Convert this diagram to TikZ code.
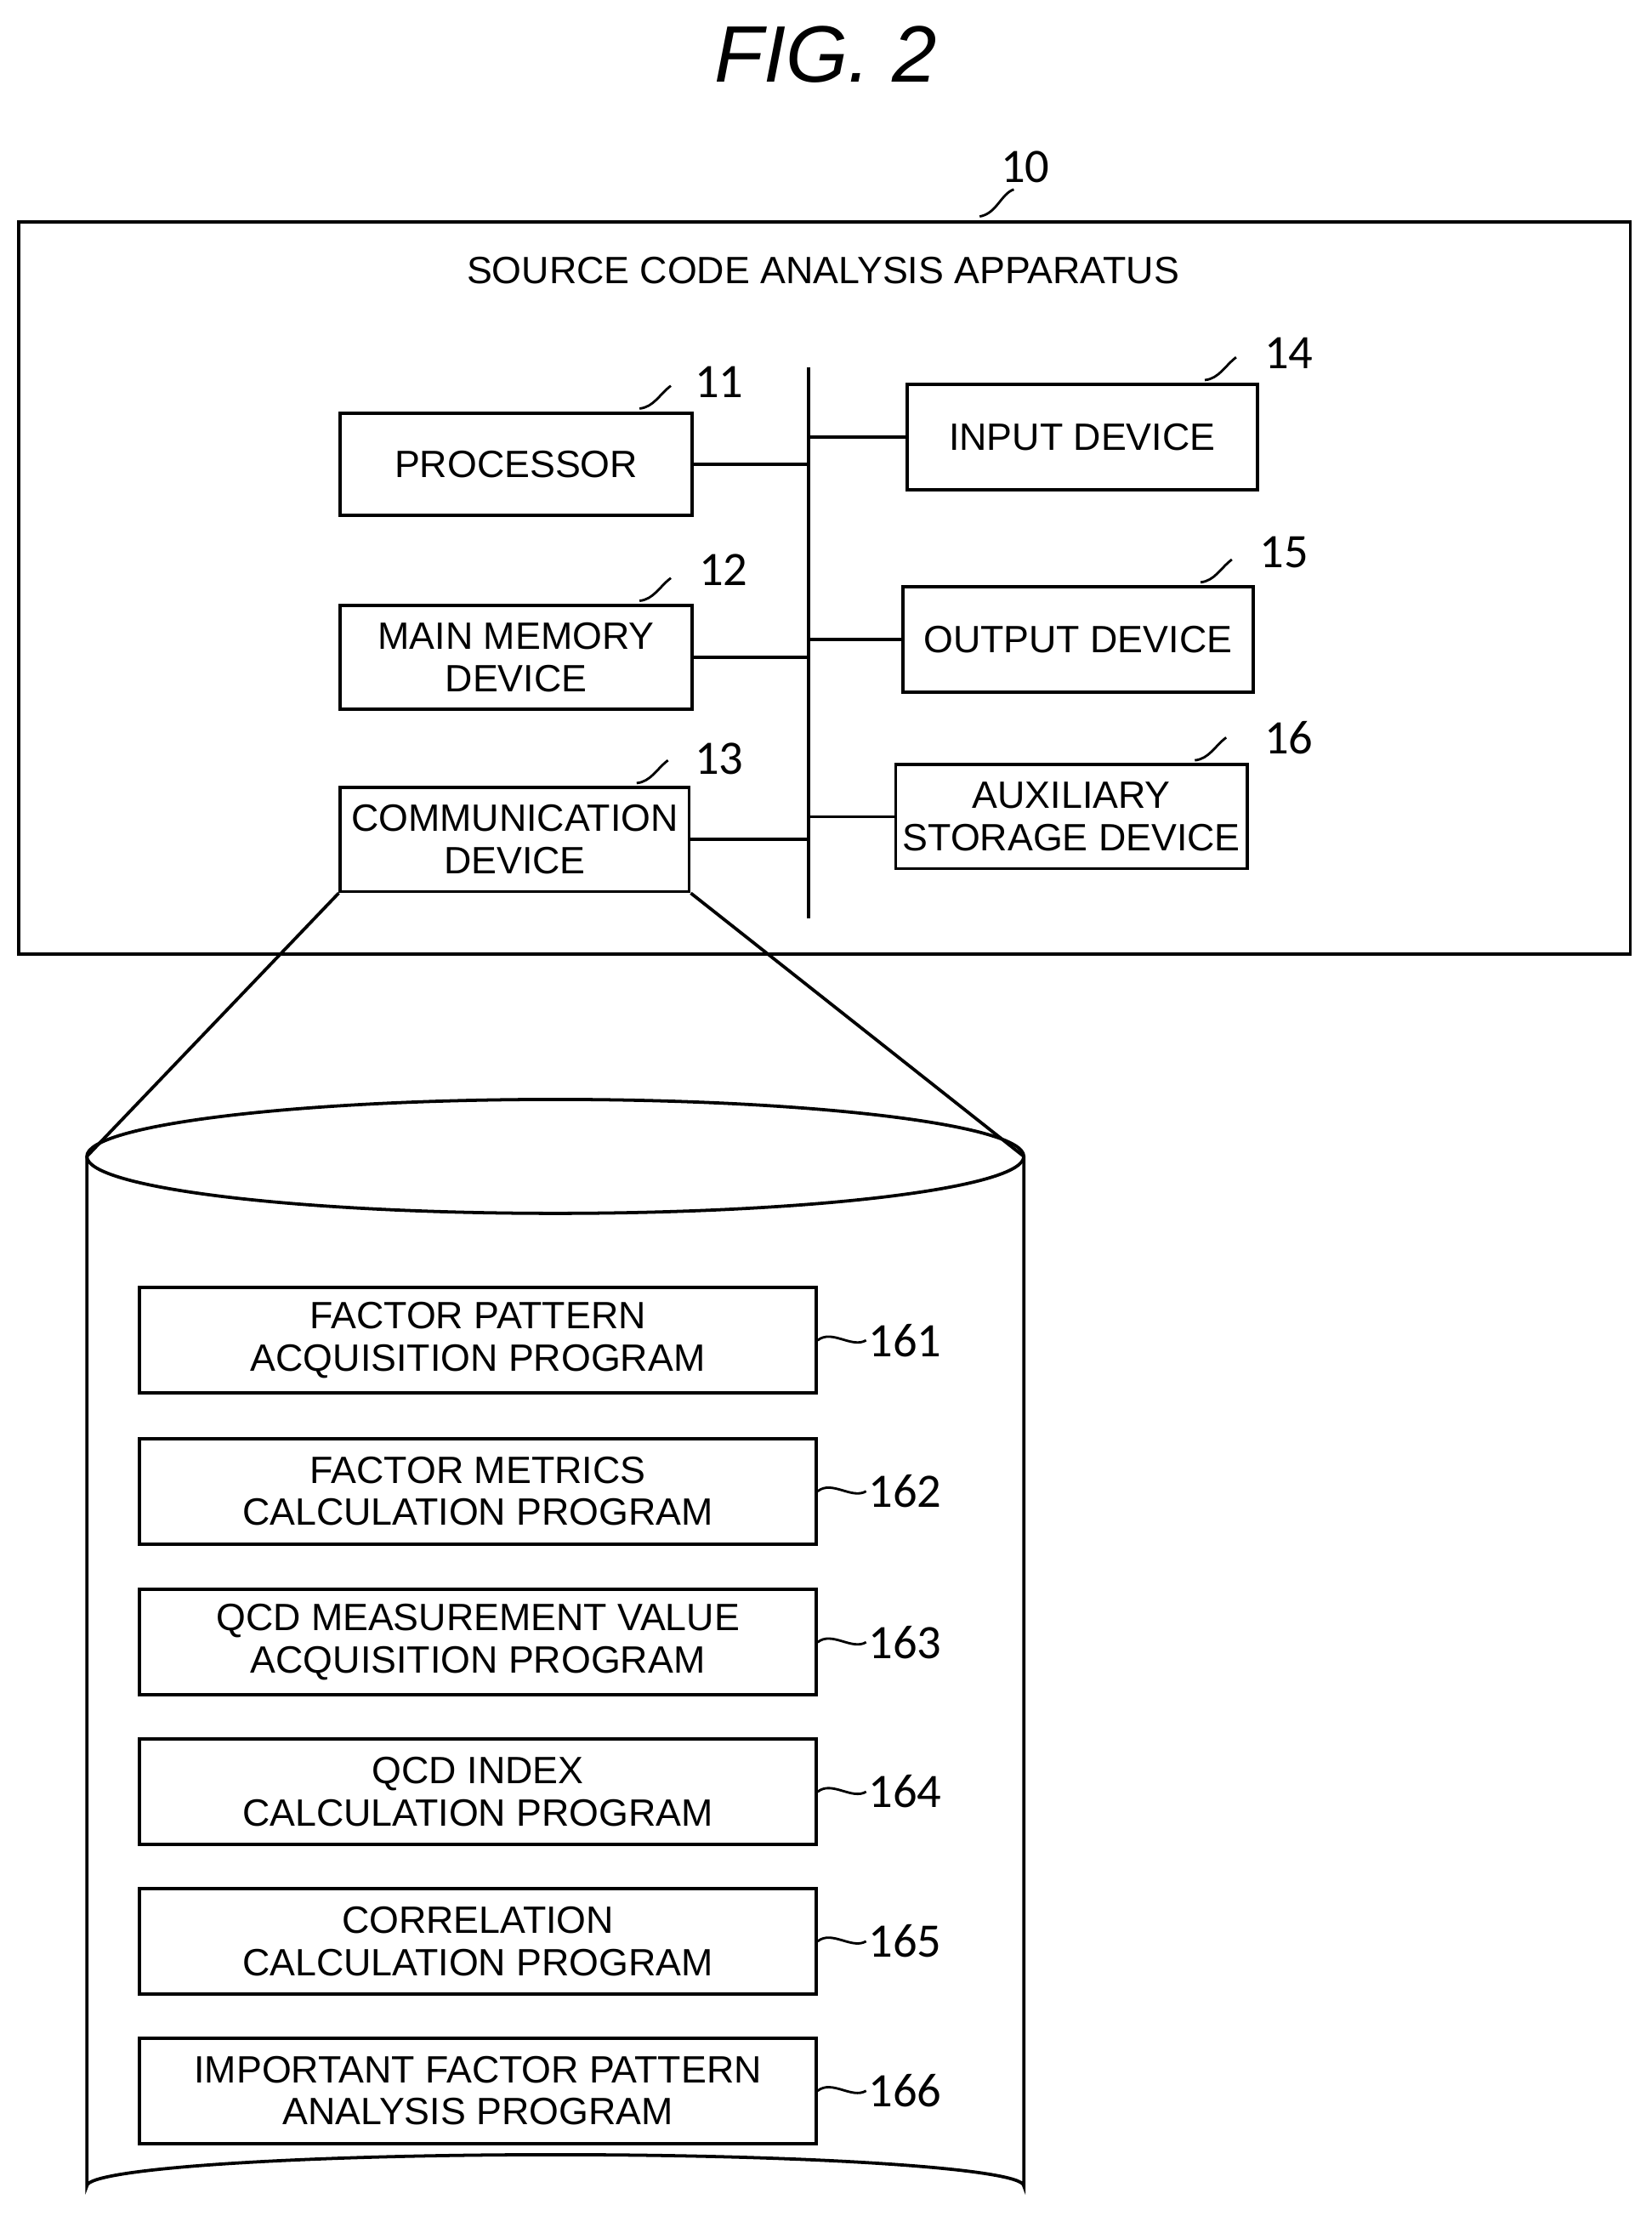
\documentclass[tikz,border=0pt]{standalone}
\usepackage{fontspec}
\setmainfont{Liberation Sans}
\newfontfamily\numfont{Carlito}
\usetikzlibrary{positioning}
\tikzset{
	blk/.style = {draw, line width=1.6pt, align=center, inner sep=0pt,
	 font=\fontsize{19}{21}\selectfont},
	num/.style = {font=\numfont\fontsize{24}{26}\selectfont, inner sep=1pt},
	tilde/.style = {line width=1.2pt},
	wire/.style = {line width=1.6pt}
}
\newcommand{\blkbox}[5]{% name, x1, y1, x2, y2
	\node (#1) [blk, minimum width=(#4-#2)*0.025cm, minimum height=(#5-#3)*0.025cm]
	 at ({(#2+#4)/2},{(#3+#5)/2})}

\begin{document}
\begin{tikzpicture}[x=0.025cm, y=-0.025cm]
\useasboundingbox (0,0) rectangle (1160,1568);

% TITLE
\node (fig) at (580,38) {\fontsize{40}{44}\selectfont\itshape FIG. 2};

% APPARATUS
\draw [wire] (13,156) rectangle (1145,670);
\node (app) at (578,190) {\fontsize{19}{21}\selectfont SOURCE CODE ANALYSIS APPARATUS};
\node (n10) [num] at (720,117) {10};
\draw [tilde] (688,152) .. controls (700,150) and (703,136) .. (712,133);

% bus
\coordinate (bustop) at (568,258);
\coordinate (busbot) at (568,645);
\draw [wire] (bustop) -- (busbot);

% devices
\blkbox{proc}{239}{290}{486}{362} {PROCESSOR};
\blkbox{mem}{239}{425}{486}{498} {MAIN MEMORY\\DEVICE};
\blkbox{comm}{239}{553}{484}{626} {COMMUNICATION\\DEVICE};
\blkbox{inp}{637}{270}{883}{344} {INPUT DEVICE};
\blkbox{outp}{634}{412}{880}{486} {OUTPUT DEVICE};
\blkbox{aux}{629}{537}{876}{610} {AUXILIARY\\STORAGE DEVICE};

\foreach \b/\n/\x/\y in {proc/11/505/268, mem/12/508/400, comm/13/505/533,
	inp/14/905/248, outp/15/902/388, aux/16/905/518}{
	\node (n\n) [num] at (\x,\y) {\n};
	\draw [tilde] (\b.north east) ++(-38,-2) .. controls +(10,-1) and +(-8,6) .. ++(22,-16);
}

% CONNECTIONS
\draw [wire] (proc.east) -- (proc.east -| bustop);
\draw [wire] (mem.east) -- (mem.east -| bustop);
\draw [wire] (comm.east) -- (comm.east -| bustop);
\draw [wire] (inp.west) -- (inp.west -| bustop);
\draw [wire] (outp.west) -- (outp.west -| bustop);
\draw [wire] (aux.west) -- (aux.west -| bustop);

% STORAGE CYLINDER
\coordinate (cylL) at (61,812);
\coordinate (cylR) at (719,812);
\draw [wire] (comm.south west) -- (cylL);
\draw [wire] (comm.south east) -- (cylR);
\draw [wire] (390,812) ellipse [x radius=329, y radius=40];
\draw [wire] (cylL) -- (61,1535) arc [start angle=180, end angle=360, x radius=329, y radius=22] -- (cylR);

% programs
\foreach \i/\y/\t in {
	161/903/{FACTOR PATTERN\\ACQUISITION PROGRAM},
	162/1009/{FACTOR METRICS\\CALCULATION PROGRAM},
	163/1115/{QCD MEASUREMENT VALUE\\ACQUISITION PROGRAM},
	164/1220/{QCD INDEX\\CALCULATION PROGRAM},
	165/1325/{CORRELATION\\CALCULATION PROGRAM},
	166/1430/{IMPORTANT FACTOR PATTERN\\ANALYSIS PROGRAM}}{
	\node (p\i) [blk, minimum width=475*0.025cm, minimum height=74*0.025cm, anchor=north west]
	 at (97,\y) {\t};
	\node (n\i) [num, anchor=west] at ([xshift=34*0.025cm]p\i.east) {\i};
	\draw [tilde] (p\i.east) .. controls +(10,-8) and +(-10,6) .. (n\i.west);
}

\end{tikzpicture}
\end{document}
